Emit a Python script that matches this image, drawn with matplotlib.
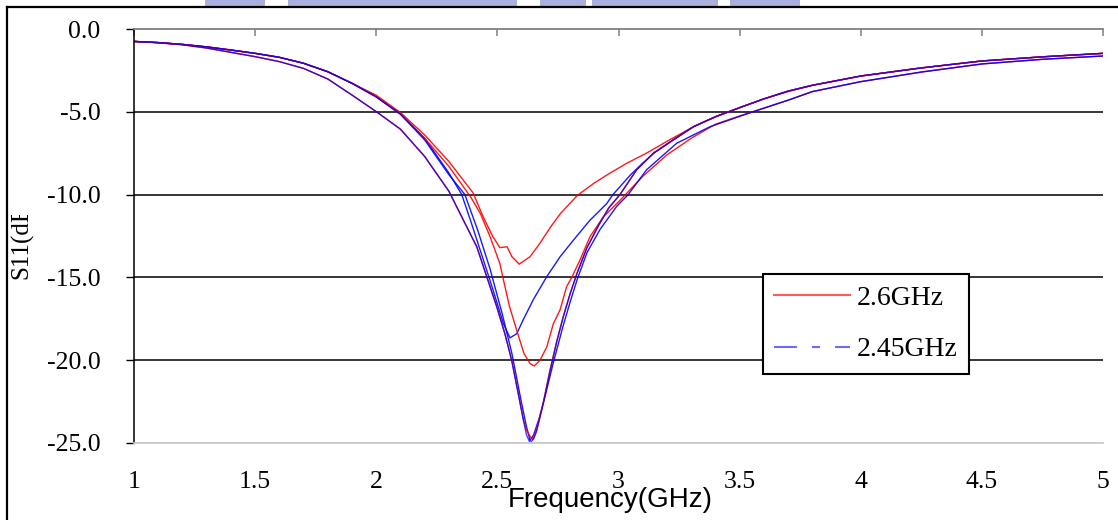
import matplotlib
matplotlib.use("Agg")
import matplotlib.pyplot as plt
from matplotlib.lines import Line2D
from matplotlib.patches import Rectangle
from matplotlib.ticker import FuncFormatter, MultipleLocator
from matplotlib.transforms import Bbox

plt.rcParams['axes.unicode_minus'] = False

# S11 (dB) traces, frequency in GHz
left_upper = [-0.75, -0.82, -0.93, -1.08, -1.27, -1.47, -1.71, -2.07, -2.58, -3.28]
left_lower = [-0.75, -0.83, -0.95, -1.15, -1.41, -1.67, -1.97, -2.38, -3.02, -3.99]
f_left = [1.0, 1.1, 1.2, 1.3, 1.4, 1.5, 1.6, 1.7, 1.8, 1.9]

f_r_shallow = f_left + [2.0, 2.1, 2.2, 2.3, 2.4, 2.44, 2.48, 2.51, 2.54, 2.56, 2.59, 2.635, 2.675,
                        2.72, 2.76, 2.83, 2.9, 2.965, 3.035, 3.115, 3.21, 3.31, 3.4, 3.5, 3.6,
                        3.7, 3.8, 4.0, 4.25, 4.5, 4.75, 5.0]
s_r_shallow = left_upper + [-4.0, -5.05, -6.4, -8.0, -9.9, -11.3, -12.5, -13.2, -13.15, -13.75,
                            -14.2, -13.75, -12.95, -11.95, -11.15, -10.05, -9.3, -8.7, -8.1, -7.5,
                            -6.7, -5.9, -5.3, -4.75, -4.22, -3.78, -3.4, -2.84, -2.35, -1.93,
                            -1.68, -1.47]

f_r_mid = f_left + [2.0, 2.1, 2.2, 2.3, 2.39, 2.43, 2.47, 2.51, 2.525, 2.55, 2.58, 2.61, 2.635,
                    2.652, 2.676, 2.704, 2.731, 2.759, 2.786, 2.807, 2.841, 2.882, 2.937, 3.006,
                    3.1, 3.2, 3.3, 3.4, 3.5, 3.6, 3.7, 3.8, 4.0, 4.25, 4.5, 4.75, 5.0]
s_r_mid = left_upper + [-4.1, -5.15, -6.6, -8.3, -10.15, -11.15, -12.55, -14.15, -15.15, -16.75,
                        -18.2, -19.6, -20.2, -20.35, -20.0, -19.2, -17.8, -16.95, -15.55, -15.0,
                        -13.95, -12.55, -11.35, -10.35, -8.9, -7.6, -6.6, -5.75, -5.25, -4.78,
                        -4.3, -3.78, -3.18, -2.6, -2.11, -1.83, -1.63]

f_b_mid = f_left + [2.0, 2.1, 2.2, 2.3, 2.353, 2.39, 2.43, 2.47, 2.5, 2.525, 2.552, 2.58, 2.607,
                    2.648, 2.704, 2.759, 2.814, 2.882, 2.951, 2.977, 3.05, 3.1, 3.15, 3.23, 3.31,
                    3.4, 3.5, 3.6, 3.7, 3.8, 4.0, 4.25, 4.5, 4.75, 5.0]
s_b_mid = left_upper + [-4.09, -5.1, -6.6, -8.7, -10.0, -11.6, -13.4, -15.2, -16.6, -17.8,
                        -18.65, -18.4, -17.55, -16.35, -14.95, -13.75, -12.75, -11.55, -10.55,
                        -10.0, -8.8, -8.1, -7.45, -6.65, -5.9, -5.3, -4.75, -4.22, -3.75, -3.4,
                        -2.84, -2.35, -1.93, -1.68, -1.47]

f_b_deep2 = f_left + [2.0, 2.1, 2.2, 2.3, 2.366, 2.42, 2.47, 2.52, 2.56, 2.6, 2.62, 2.635, 2.65,
                      2.675, 2.7, 2.73, 2.77, 2.8, 2.83, 2.87, 2.924, 2.993, 3.04, 3.116, 3.24,
                      3.378, 3.515, 3.6, 3.7, 3.8, 4.0, 4.25, 4.5, 4.75, 5.0]
s_b_deep2 = left_upper + [-4.1, -5.15, -6.7, -8.8, -10.0, -12.2, -14.5, -17.2, -19.6, -22.6,
                          -24.0, -24.85, -24.5, -23.4, -22.0, -20.2, -18.0, -16.5, -15.1, -13.5,
                          -12.1, -10.7, -10.0, -8.5, -6.9, -5.9, -5.2, -4.78, -4.3, -3.78,
                          -3.18, -2.6, -2.11, -1.83, -1.63]

f_b_deep = f_left + [2.0, 2.1, 2.2, 2.3, 2.36, 2.415, 2.456, 2.497, 2.531, 2.559, 2.586, 2.607,
                     2.62, 2.635, 2.65, 2.662, 2.69, 2.717, 2.745, 2.772, 2.8, 2.83, 2.87, 2.92,
                     2.96, 3.006, 3.075, 3.144, 3.226, 3.309, 3.4, 3.5, 3.6, 3.7, 3.8, 4.0,
                     4.25, 4.5, 4.75, 5.0]
s_b_deep = left_lower + [-4.99, -6.05, -7.7, -9.8, -11.55, -13.15, -14.95, -16.75, -18.4, -20.0,
                         -22.0, -23.6, -24.5, -25.0, -24.75, -24.3, -22.6, -20.7, -18.9, -17.4,
                         -16.0, -14.7, -13.2, -11.8, -10.8, -10.0, -8.5, -7.5, -6.7, -5.9,
                         -5.3, -4.75, -4.22, -3.75, -3.4, -2.84, -2.35, -1.93, -1.68, -1.47]

f_r_deep = f_left + [2.0, 2.1, 2.2, 2.3, 2.36, 2.415, 2.456, 2.497, 2.531, 2.559, 2.586, 2.607,
                     2.62, 2.635, 2.646, 2.662, 2.69, 2.717, 2.745, 2.772, 2.8, 2.83, 2.87, 2.92,
                     2.96, 3.006, 3.075, 3.144, 3.226, 3.309, 3.4, 3.5, 3.6, 3.7, 3.8, 4.0,
                     4.25, 4.5, 4.75, 5.0]
s_r_deep = left_lower + [-4.99, -6.05, -7.7, -9.8, -11.55, -13.15, -14.95, -16.75, -18.4, -20.0,
                         -22.0, -23.55, -24.2, -24.6, -24.78, -24.2, -22.5, -20.6, -18.85, -17.35,
                         -16.0, -14.7, -13.2, -11.8, -10.8, -10.0, -8.5, -7.5, -6.7, -5.9,
                         -5.3, -4.75, -4.22, -3.75, -3.4, -2.84, -2.35, -1.93, -1.68, -1.47]

legend_labels = ["2.6GHz", "2.45GHz"]

RED = '#ff0000'
BLUE = '#0000ff'

fig = plt.figure(figsize=(11.18, 5.2), dpi=100)
W, H = 1118.0, 520.0
ax = fig.add_axes([134 / W, 77 / H, 969 / W, 414 / H])

# faint watermark strip at the very top
wm = '#aab0dc'
for x0, x1 in [(205, 265), (288, 517), (540, 586), (592, 718), (730, 800)]:
    fig.patches.append(Rectangle((x0 / W, 1 - 7 / H), (x1 - x0) / W, 7 / H,
                                 transform=fig.transFigure, color=wm, lw=0))

# outer frame (runs off the right and bottom edge)
fig.add_artist(Line2D([7 / W, 1.0], [1 - 7 / H, 1 - 7 / H], color='black', lw=1.6))
fig.add_artist(Line2D([7 / W, 7 / W], [0.0, 1 - 7 / H], color='black', lw=1.6))

lw = 1.0
ax.plot(f_b_mid, s_b_mid, color=BLUE, lw=lw, alpha=0.9)
ax.plot(f_r_shallow, s_r_shallow, color=RED, lw=lw, alpha=0.9)
ax.plot(f_r_mid, s_r_mid, color=RED, lw=lw, alpha=0.9)
ax.plot(f_b_deep2, s_b_deep2, color=BLUE, lw=lw, alpha=0.9)
ax.plot(f_r_deep, s_r_deep, color=RED, lw=lw, alpha=0.9)
ax.plot(f_b_deep, s_b_deep, color=BLUE, lw=lw, alpha=0.75)

ax.set_xlim(1, 5)
ax.set_ylim(-25, 0)

for v in [-5, -10, -15, -20]:
    ax.axhline(v, color='black', lw=1.1, zorder=1)

ax.spines['right'].set_visible(False)
ax.spines['top'].set_color('#7f7f7f')
ax.spines['top'].set_linewidth(1.3)
ax.spines['bottom'].set_color('#c8c8c8')
ax.spines['bottom'].set_linewidth(1.3)
ax.spines['left'].set_color('black')
ax.spines['left'].set_linewidth(1.1)

ax.xaxis.set_major_locator(MultipleLocator(0.5))
ax.yaxis.set_major_locator(MultipleLocator(5))
ax.xaxis.set_major_formatter(FuncFormatter(lambda x, p: '%g' % x))
ax.yaxis.set_major_formatter(FuncFormatter(lambda y, p: '%.1f' % y))

serif = 'Liberation Serif'
ax.tick_params(axis='x', top=True, bottom=False, labelbottom=True, direction='in',
               length=5, width=1.1, color='#7f7f7f', pad=20, labelsize=18.5)
ax.tick_params(axis='y', direction='out', length=6, width=1.0, color='black',
               pad=18, labelsize=18.5)
for lab in ax.get_xticklabels() + ax.get_yticklabels():
    lab.set_fontfamily(serif)

fig.text(610 / W, 1 - 507 / H, 'Frequency(GHz)', family='Liberation Sans', fontsize=20,
         ha='center', va='baseline')

yl = fig.text(22 / W, 1 - 279 / H, 'S11(dB)', family=serif, fontsize=18, rotation=90,
              ha='center', va='bottom')
yl.set_clip_box(Bbox([[0, 0], [W, H - 215]]))
yl.set_clip_on(True)

handles = [Line2D([], [], color='#ff5a5a', lw=1.5),
           Line2D([], [], color='#6a6aff', lw=1.5, dashes=(11, 7.2, 3.9, 7.2))]
leg = ax.legend(handles, legend_labels, loc='upper left', bbox_to_anchor=(0.649, 0.408),
                borderaxespad=0, prop={'family': serif, 'size': 20}, fancybox=False,
                frameon=True, edgecolor='black', framealpha=1, borderpad=0.4,
                labelspacing=0.95, handlelength=2.73, handletextpad=0.25)
leg.get_frame().set_linewidth(1.5)

fig.savefig('out.png', dpi=100)
